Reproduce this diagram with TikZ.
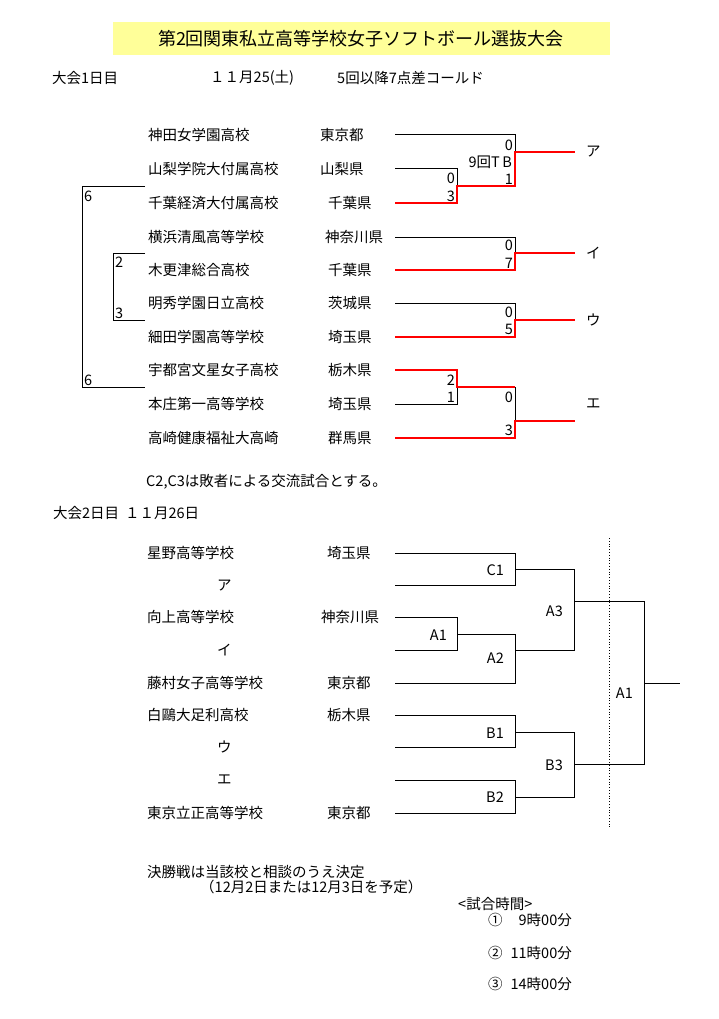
\documentclass[tikz,border=0pt]{standalone}
\usepackage{fontspec}
\setmainfont{Noto Sans CJK JP}
\begin{document}
\begin{tikzpicture}[x=1pt,y=-1pt,font=\fontsize{14.5}{16}\selectfont,
  t/.style={anchor=west,inner sep=0},
  sc/.style={anchor=east,inner sep=0},
  bk/.style={line width=1pt,black},
  rd/.style={line width=2.6pt,red,line join=miter}]
\useasboundingbox (0,0) rectangle (719,1019);
% title
\fill[fill={rgb,255:red,255;green,255;blue,153}] (113,22) rectangle (610,55);
\node[inner sep=0,font=\fontsize{18}{20}\selectfont] (title) at (361,39) {第2回関東私立高等学校女子ソフトボール選抜大会};
% header day 1
\node[t] (d1) at (52,78) {大会1日目};
\node[t] (d1date) at (210,78) {１１月25(土)};
\node[t] (d1rule) at (337,78) {5回以降7点差コールド};
% day 1 schools
\node[t] (s1) at (148,135) {神田女学園高校};      \node[t] (p1) at (320,135) {東京都};
\node[t] (s2) at (148,169) {山梨学院大付属高校};  \node[t] (p2) at (320,169) {山梨県};
\node[t] (s3) at (148,203) {千葉経済大付属高校};  \node[t] (p3) at (328,203) {千葉県};
\node[t] (s4) at (148,237) {横浜清風高等学校};    \node[t] (p4) at (325,237) {神奈川県};
\node[t] (s5) at (148,270) {木更津総合高校};      \node[t] (p5) at (328,270) {千葉県};
\node[t] (s6) at (148,303) {明秀学園日立高校};    \node[t] (p6) at (328,303) {茨城県};
\node[t] (s7) at (148,337) {細田学園高等学校};    \node[t] (p7) at (328,337) {埼玉県};
\node[t] (s8) at (148,370) {宇都宮文星女子高校};  \node[t] (p8) at (328,370) {栃木県};
\node[t] (s9) at (148,404) {本庄第一高等学校};    \node[t] (p9) at (328,404) {埼玉県};
\node[t] (s10) at (148,438) {高崎健康福祉大高崎}; \node[t] (p10) at (328,438) {群馬県};
% day 1 bracket: black
\draw[bk] (395,135) -- (515,135) -- (515,152);
\draw[bk] (395,169) -- (457,169) -- (457,186);
\draw[bk] (395,237) -- (515,237) -- (515,253);
\draw[bk] (395,303) -- (515,303) -- (515,320);
\draw[bk] (395,404) -- (457,404) -- (457,387);
\draw[bk] (515,387) -- (515,421);
% day 1 bracket: red (winners)
\draw[rd] (395,203) -- (457,203) -- (457,186) -- (515,186) -- (515,152) -- (575,152);
\draw[rd] (395,270) -- (515,270) -- (515,253) -- (575,253);
\draw[rd] (395,337) -- (515,337) -- (515,320) -- (575,320);
\draw[rd] (395,370) -- (457,370) -- (457,387) -- (515,387);
\draw[rd] (395,438) -- (515,438) -- (515,421) -- (575,421);
% scores
\node[sc] (a0) at (513,145) {0};
\node[sc] (atb) at (512,162) {9回T\,B};
\node[sc] (a1) at (513,179) {1};
\node[sc] (b0) at (455,178) {0};
\node[sc] (b3) at (455,196) {3};
\node[sc] (c0) at (513,245) {0};
\node[sc] (c7) at (513,263) {7};
\node[sc] (e0) at (513,312) {0};
\node[sc] (e5) at (513,329) {5};
\node[sc] (f2) at (455,380) {2};
\node[sc] (f1) at (455,397) {1};
\node[sc] (g0) at (513,397) {0};
\node[sc] (g3) at (513,430) {3};
% winner labels
\node[t] (wa) at (586,152) {ア};
\node[t] (wi) at (586,253) {イ};
\node[t] (wu) at (586,320) {ウ};
\node[t] (we) at (586,404) {エ};
% left (consolation) brackets
\draw[bk] (145,187) -- (82,187) -- (82,387) -- (145,387);
\draw[bk] (145,253) -- (113,253) -- (113,320) -- (145,320);
\node[t] (l6a) at (84,196) {6};
\node[t] (l6b) at (84,380) {6};
\node[t] (l2) at (115,262) {2};
\node[t] (l3) at (115,313) {3};
% notes
\node[t] (note1) at (146,482) {C2,C3は敗者による交流試合とする。};
\node[t] (d2) at (53,513) {大会2日目\hspace{0.4em}１１月26日};
% day 2 schools
\node[t] (u1) at (147,553) {星野高等学校};       \node[t] (q1) at (327,553) {埼玉県};
\node[t] (u2) at (217,585) {ア};
\node[t] (u3) at (147,617) {向上高等学校};       \node[t] (q3) at (321,617) {神奈川県};
\node[t] (u4) at (217,650) {イ};
\node[t] (u5) at (147,683) {藤村女子高等学校};   \node[t] (q5) at (327,683) {東京都};
\node[t] (u6) at (147,715) {白鷗大足利高校};     \node[t] (q6) at (327,715) {栃木県};
\node[t] (u7) at (217,747) {ウ};
\node[t] (u8) at (217,780) {エ};
\node[t] (u9) at (147,813) {東京立正高等学校};   \node[t] (q9) at (327,813) {東京都};
% day 2 bracket
\draw[bk] (395,553) -- (515,553) -- (515,585) -- (395,585);
\draw[bk] (515,569) -- (574,569) -- (574,650) -- (515,650);
\draw[bk] (395,617) -- (457,617) -- (457,650) -- (395,650);
\draw[bk] (457,634) -- (515,634) -- (515,683) -- (395,683);
\draw[bk] (574,601) -- (644,601) -- (644,764) -- (574,764);
\draw[bk] (644,683) -- (680,683);
\draw[bk] (395,715) -- (515,715) -- (515,747) -- (395,747);
\draw[bk] (515,732) -- (574,732) -- (574,797) -- (515,797);
\draw[bk] (395,780) -- (515,780) -- (515,813) -- (395,813);
\draw[black,line width=0.8pt,dotted] (609,538) -- (609,827);
\node[sc] (mc1) at (504,570) {C1};
\node[sc] (ma1) at (447,635) {A1};
\node[sc] (ma2) at (504,658) {A2};
\node[sc] (ma3) at (563,611) {A3};
\node[sc] (mf) at (633,693) {A1};
\node[sc] (mb1) at (504,733) {B1};
\node[sc] (mb2) at (504,797) {B2};
\node[sc] (mb3) at (563,765) {B3};
% bottom notes
\node[t] (fin1) at (147,872) {決勝戦は当該校と相談のうえ決定};
\node[t] (fin2) at (200,887) {（12月2日または12月3日を予定）};
\node[t] (tm) at (458,904) {<試合時間>};
\node[t] (n1) at (488,920) {①};
\node[sc] (t1) at (572,920) {9時00分};
\node[t] (n2) at (488,953) {②};
\node[sc] (t2) at (572,953) {11時00分};
\node[t] (n3) at (488,984) {③};
\node[sc] (t3) at (572,984) {14時00分};
\end{tikzpicture}
\end{document}
